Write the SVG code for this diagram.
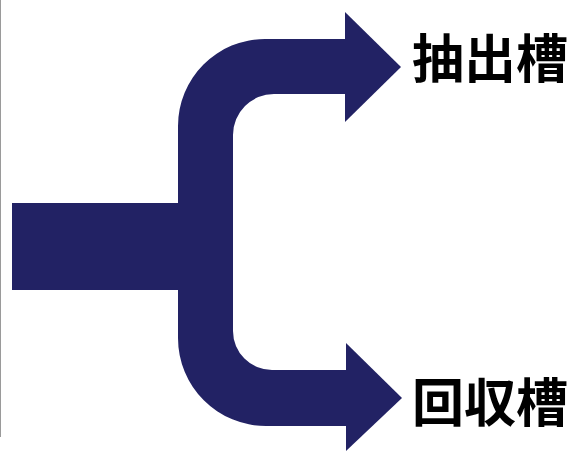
<svg xmlns="http://www.w3.org/2000/svg" width="578" height="451" viewBox="0 0 578 451">
  <style>
    .pipe { fill: #222264; }
    .label { font-family: "Noto Sans CJK JP", "Noto Sans CJK SC", sans-serif; font-weight: bold; font-size: 52px; fill: #000000; }
  </style>
  <rect width="578" height="451" fill="#ffffff"/>
  <line x1="0.5" y1="0" x2="0.5" y2="437" stroke="#9a9a9a" stroke-width="1"/>
  <g id="connectors">
    <path class="pipe" d="M346,39 L265,39 A87,87 0 0 0 178,126 L178,203 L12,203 L12,290 L178,290 L178,338 A88,88 0 0 0 266,426 L346,426 L346,370 L272,370 A39,39 0 0 1 233,331 L233,135 A41,41 0 0 1 274,94 L346,94 Z"/>
    <polygon class="pipe" points="345,12 401,67 345,122"/>
    <polygon class="pipe" points="346,343 402,398 346,451"/>
  </g>
  <g id="node-extraction">
    <text class="label" x="412" y="78">抽出槽</text>
  </g>
  <g id="node-recovery">
    <text class="label" x="412" y="422">回収槽</text>
  </g>
</svg>
